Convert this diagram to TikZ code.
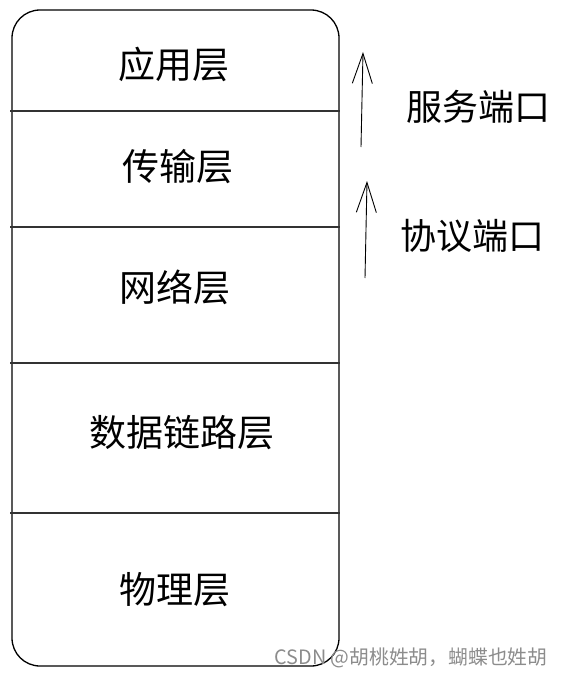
\documentclass[tikz,border=0pt]{standalone}
\usepackage{fontspec}
\setmainfont{Noto Sans CJK SC}
\usetikzlibrary{arrows.meta}
\begin{document}
\begin{tikzpicture}[x=1pt,y=-1pt,layer/.style={font=\fontsize{37}{40}\selectfont,inner sep=0pt},port/.style={font=\fontsize{36}{40}\selectfont,inner sep=0pt},up/.style={-{Straight Barb[length=30pt,width=20pt]},line width=0.9pt}]
\useasboundingbox (0,0) rectangle (561,677);
\node[draw, line width=1.3pt, rounded corners=28pt, minimum width=327pt, minimum height=656pt, inner sep=0pt] at (175.5,338) (stack) {};
\foreach \y in {111,227,363,513}
	\draw [line width=1.1pt, black!80] (10,\y) -- (340,\y);

\node[layer] at (174,64) (app) {应用层};
\node[layer] at (178,167) (trans) {传输层};
\node[layer] at (175,287) (net) {网络层};
\node[layer] at (182,433) (link) {数据链路层};
\node[layer] at (175,590) (phy) {物理层};

\coordinate (s1) at (361,147);
\coordinate (e1) at (363,52);
\coordinate (s2) at (365,278);
\coordinate (e2) at (367,181);
					\draw[up] (s1) -- (e1);
					\draw[up] (s2) -- (e2);

\node[port] at (478,107) (service) {服务端口};
\node[port] at (472,236) (protocol) {协议端口};
\node[font=\fontsize{19.8}{21}\selectfont, text=black!45, inner sep=0pt] at (411,658) (mark) {CSDN @胡桃姓胡，蝴蝶也姓胡};
				\end{tikzpicture}
\end{document}
